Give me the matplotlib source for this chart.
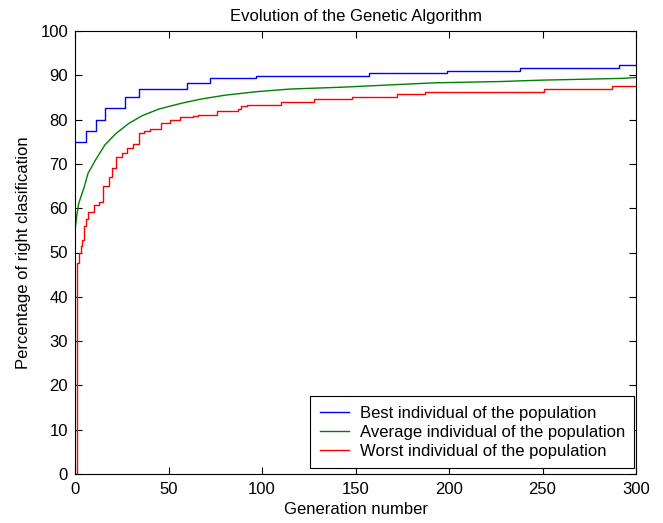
import numpy as np
import matplotlib
matplotlib.use("Agg")
import matplotlib.pyplot as plt

# best individual: generation where the value changes, new value
best_gen = [0, 6, 11, 16, 27, 34, 60, 72, 97, 157, 199, 238, 291, 300]
best_val = [75.0, 77.4, 79.9, 82.7, 85.0, 86.9, 88.2, 89.3, 89.9, 90.6, 91.0, 91.6, 92.3, 92.3]

# average individual
avg_gen = [0, 1, 2, 5, 7, 11, 16, 22, 29, 36, 45, 57, 67, 80, 97, 115, 142, 157, 192, 228, 249, 292, 300]
avg_val = [55.0, 58.5, 61.1, 64.9, 67.9, 70.9, 74.3, 76.9, 79.2, 80.9, 82.4, 83.7, 84.6, 85.5,
           86.3, 86.9, 87.3, 87.6, 88.3, 88.6, 88.9, 89.3, 89.5]

# worst individual
worst_gen = [0, 1, 2, 3, 4, 5, 6, 7, 10, 13, 15, 18, 20, 22, 25, 28, 31, 34, 37, 40, 46, 51,
             56, 63, 66, 76, 87, 89, 92, 110, 128, 148, 172, 187, 251, 287, 300]
worst_val = [0.0, 47.7, 50.0, 51.4, 52.8, 55.9, 57.5, 59.2, 60.7, 61.5, 64.9, 67.1, 69.0, 71.6,
             72.4, 73.5, 74.6, 76.9, 77.4, 77.8, 79.2, 79.9, 80.6, 80.8, 81.0, 82.0, 82.4, 83.0,
             83.3, 84.0, 84.6, 85.2, 85.7, 86.3, 86.9, 87.5, 87.5]

plt.rcParams['font.family'] = ['Liberation Sans', 'DejaVu Sans']

fig = plt.figure(figsize=(6.63, 5.23), dpi=100)
ax = fig.add_axes([75 / 663, 1 - 474 / 523, 561 / 663, 443 / 523])

ax.plot(best_gen, best_val, color='#0000ff', lw=1.0, drawstyle='steps-post',
        label='Best individual of the population')
ax.plot(avg_gen, avg_val, color='#007f00', lw=1.0,
        label='Average individual of the population')
ax.plot(worst_gen, worst_val, color='#ff0000', lw=1.0, drawstyle='steps-post',
        label='Worst individual of the population')

ax.set_xlim(0, 300)
ax.set_ylim(0, 100)
ax.set_xticks(np.arange(0, 301, 50))
ax.set_yticks(np.arange(0, 101, 10))
ax.tick_params(direction='in', top=True, right=True, length=5, labelsize=12, width=0.8)
ax.tick_params(axis='x', pad=5.5)
ax.tick_params(axis='y', pad=5)
for s in ax.spines.values():
    s.set_linewidth(0.8)

ax.set_title('Evolution of the Genetic Algorithm', fontsize=12, pad=7)
ax.set_xlabel('Generation number', fontsize=12, labelpad=4)
ax.set_ylabel('Percentage of right clasification', fontsize=12, labelpad=7)

leg = ax.legend(loc='lower right', bbox_to_anchor=(0.9964, 0.0135), fontsize=12,
                fancybox=False, framealpha=1, edgecolor='black', borderaxespad=0,
                handlelength=1.75, handletextpad=0.65, labelspacing=0.25, borderpad=0.55)
leg.get_frame().set_linewidth(0.8)

fig.savefig('out.png', dpi=100)
